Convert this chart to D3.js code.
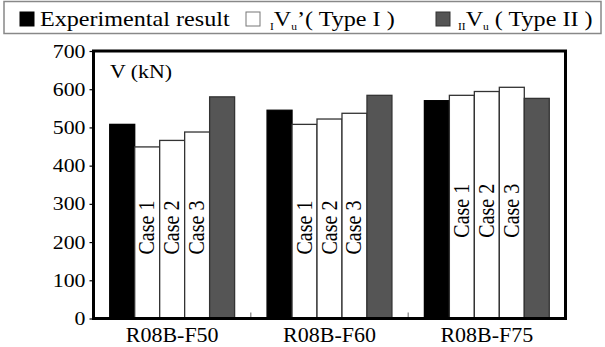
<!DOCTYPE html>
<html>
<head>
<meta charset="utf-8">
<script src="https://cdn.jsdelivr.net/npm/d3@7"></script>
</head>
<body style="margin:0;background:#fff">
<svg id="fig" width="605" height="347" style="display:block"></svg>
<script>
// Shear capacity of the three specimens: test result vs. predictions
const specimens = ["R08B-F50", "R08B-F60", "R08B-F75"];
const experimental = [508, 545, 570];
const typeICase1 = [449, 508, 584];
const typeICase2 = [466, 522, 594];
const typeICase3 = [488, 537, 605];
const typeII = [580, 584, 576];
const caseLabels = ["Case 1", "Case 2", "Case 3"];
const yTicks = [0, 100, 200, 300, 400, 500, 600, 700];

const seriesValues = [experimental, typeICase1, typeICase2, typeICase3, typeII];
const seriesFill = ["#000000", "#ffffff", "#ffffff", "#ffffff", "#555555"];

const serifFace = "Liberation Serif";
const svg = d3.select("#fig");
const frame = { left: 93.5, right: 565.5, top: 51, bottom: 318.5 };
const SX = 1.15; // glyphs of this figure are set slightly wide

function face(sel) {
  return sel.attr("font-family", serifFace).style("font-family", `"${serifFace}", serif`);
}

const y = d3.scaleLinear().domain([0, 700]).range([frame.bottom, frame.top]);
const x0 = d3.scaleBand().domain(specimens).range([frame.left, frame.right]);
const x1 = d3.scaleBand().domain(d3.range(seriesValues.length))
  .range([0, x0.bandwidth()]).paddingInner(0).paddingOuter(0.65);

// bars
specimens.forEach((s, gi) => {
  const g = svg.append("g").attr("transform", `translate(${x0(s)},0)`);
  seriesValues.forEach((vals, si) => {
    g.append("rect")
      .attr("x", x1(si))
      .attr("y", y(vals[gi]))
      .attr("width", x1.bandwidth())
      .attr("height", y(0) - y(vals[gi]))
      .attr("fill", seriesFill[si])
      .attr("stroke", si === 0 ? "#000" : "#333")
      .attr("stroke-width", 1.3);
  });
  // rotated case labels inside the Type I bars
  const mid = gi === 2 ? 282 : 238;
  caseLabels.forEach((lab, ci) => {
    const cx = x1(ci + 1) + x1.bandwidth() / 2;
    face(g.append("text"))
      .attr("transform", `translate(${cx + 7},${y(mid)}) rotate(-90) scale(1,${SX})`)
      .attr("text-anchor", "middle")
      .attr("font-size", 20)
      .attr("fill", "#000")
      .text(lab);
  });
});

// y axis
const yAxis = d3.axisLeft(y).tickValues(yTicks).tickSize(4).tickPadding(5);
const ya = svg.append("g").attr("transform", `translate(${frame.left},0)`).call(yAxis);
ya.select(".domain").remove();
ya.selectAll("line").attr("stroke", "#000").attr("stroke-width", 1.2);
face(ya.selectAll("text"))
  .attr("font-size", 19)
  .attr("fill", "#000")
  .attr("transform", `scale(${SX},1)`)
  .attr("x", -8 / SX);

// category labels and small ticks between specimen groups
const xa = svg.append("g").attr("transform", `translate(0,${frame.bottom})`)
  .call(d3.axisBottom(x0).tickSize(0).tickPadding(8));
xa.select(".domain").remove();
face(xa.selectAll("text"))
  .attr("font-size", 22)
  .attr("fill", "#000");
specimens.slice(1).forEach(s => {
  svg.append("line")
    .attr("x1", x0(s)).attr("x2", x0(s))
    .attr("y1", frame.bottom).attr("y2", frame.bottom - 6)
    .attr("stroke", "#666").attr("stroke-width", 1);
});

// plot frame
svg.append("rect")
  .attr("x", frame.left).attr("y", frame.top)
  .attr("width", frame.right - frame.left).attr("height", frame.bottom - frame.top)
  .attr("fill", "none").attr("stroke", "#000").attr("stroke-width", 3);

// unit label
face(svg.append("text"))
  .attr("transform", `translate(110,77.5) scale(${SX},1)`)
  .attr("font-size", 19)
  .text("V (kN)");

// legend
const legend = svg.append("g");
legend.append("rect")
  .attr("x", 4).attr("y", 1.5).attr("width", 597).attr("height", 32)
  .attr("fill", "#fff").attr("stroke", "#888").attr("stroke-width", 1.5);

const swatches = [
  { x: 20, fill: "#000", stroke: "#000" },
  { x: 246, fill: "#fff", stroke: "#777" },
  { x: 436, fill: "#555", stroke: "#333" }
];
swatches.forEach(sw => {
  legend.append("rect")
    .attr("x", sw.x).attr("y", 12).attr("width", 14).attr("height", 14)
    .attr("fill", sw.fill).attr("stroke", sw.stroke).attr("stroke-width", 1);
});

function legendText(xPos, parts) {
  const t = face(legend.append("text"))
    .attr("transform", `translate(${xPos},26) scale(${SX},1)`)
    .attr("font-size", 21);
  parts.forEach(p => {
    const ts = t.append("tspan").text(p.t);
    if (p.sub) ts.attr("font-size", 10).attr("dy", 4);
    if (p.up) ts.attr("dy", -4);
  });
}
legendText(40, [{ t: "Experimental result" }]);
legendText(270, [{ t: "I", sub: true }, { t: "V", up: true }, { t: "u", sub: true }, { t: "’( Type I )", up: true }]);
legendText(458, [{ t: "II", sub: true }, { t: "V", up: true }, { t: "u", sub: true }, { t: " ( Type II )", up: true }]);
</script>
</body>
</html>
